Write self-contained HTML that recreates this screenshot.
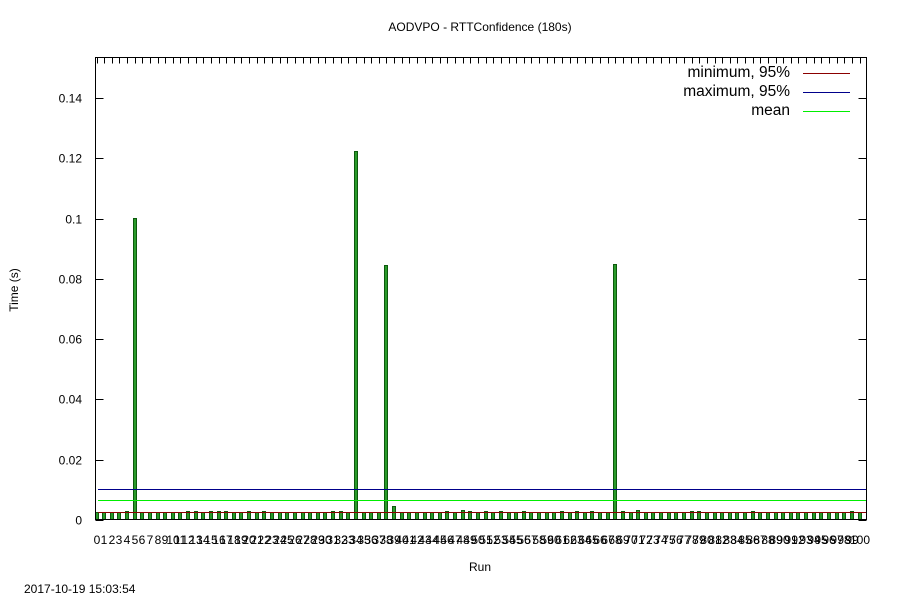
<!DOCTYPE html>
<html><head><meta charset="utf-8"><style>
body{margin:0;background:#fff}
svg text{font-family:"Liberation Sans",sans-serif;font-size:12px;fill:#000}
svg line,svg rect{shape-rendering:crispEdges}
</style></head><body>
<svg id="c" width="900" height="600" xmlns="http://www.w3.org/2000/svg">
<rect width="900" height="600" fill="#fff"/>
<text x="480" y="31" text-anchor="middle">AODVPO - RTTConfidence (180s)</text>
<text x="480" y="571" text-anchor="middle">Run</text>
<text x="18" y="290" text-anchor="middle" transform="rotate(-90 18 290)">Time (s)</text>
<text x="24" y="593">2017-10-19 15:03:54</text>
<g id="g"></g>
<rect x="95.5" y="57.5" width="771" height="462" fill="none" stroke="#000"/>
<g>
<text x="790" y="77" text-anchor="end" style="font-size:15.5px">minimum, 95%</text>
<line x1="803" y1="73.5" x2="850" y2="73.5" stroke="#8b0000"/>
<text x="790" y="96" text-anchor="end" style="font-size:15.5px">maximum, 95%</text>
<line x1="803" y1="92.5" x2="850" y2="92.5" stroke="#00008b"/>
<text x="790" y="115" text-anchor="end" style="font-size:15.5px">mean</text>
<line x1="803" y1="111.5" x2="850" y2="111.5" stroke="#00ee00"/>
</g>
</svg>
<script>
const runs=[];for(let i=0;i<=100;i++)runs.push(i);
const values=new Array(101).fill(0.0027);
const highRuns=[4,12,13,15,16,17,20,22,31,32,46,49,51,53,56,61,63,65,69,78,79,86,99];
const highVals=[0.003,0.003,0.003,0.003,0.003,0.003,0.003,0.003,0.003,0.003,0.003,0.003,0.003,0.003,0.003,0.003,0.003,0.003,0.003,0.003,0.003,0.003,0.003];
const spikeRuns=[5,34,38,39,48,68,71,10,84];
const spikeVals=[0.1003,0.1225,0.0845,0.0045,0.0033,0.085,0.0033,0.0025,0.0025];
highRuns.forEach((r,k)=>values[r]=highVals[k]);
spikeRuns.forEach((r,k)=>values[r]=spikeVals[k]);
const minCI=0.0027, maxCI=0.0103, meanV=0.0066;
const yTicks=[0,0.02,0.04,0.06,0.08,0.1,0.12,0.14];
const yLabels=["0","0.02","0.04","0.06","0.08","0.1","0.12","0.14"];
const L=95.5,R=866.5,T=57.5,B=519.5;
const x=i=>Math.round(96.5+i*7.63);
const y=v=>Math.round(520-v/0.14*422)+0.5;
const g=document.getElementById('g');
const NS='http://www.w3.org/2000/svg';
function mk(t,a){const e=document.createElementNS(NS,t);for(const k in a)e.setAttribute(k,a[k]);g.appendChild(e);return e;}
yTicks.forEach((v,k)=>{
 const t=mk('line',{x1:L,x2:L+8,y1:y(v),y2:y(v),stroke:'#000'});
 
 
 const t2=mk('line',{x1:R-8,x2:R,y1:y(v),y2:y(v),stroke:'#000'});
 
 
 const l=mk('text',{x:82,y:y(v)+4,'text-anchor':'end'});l.textContent=yLabels[k];
 
 
});
runs.forEach((r,i)=>{
 const t=mk('line',{x1:x(r)+0.5,x2:x(r)+0.5,y1:T,y2:T+6,stroke:'#000'});
 
 
 const b=mk('rect',{x:x(r)-1.5,y:y(values[i]),width:3,height:B-y(values[i]),fill:'#2a9a2a',stroke:'#0d5a0d','stroke-width':1});
 
 
 const l=mk('text',{x:x(r),y:544,'text-anchor':'middle'});l.textContent=r;
 
 
});
[[maxCI,'#00008b','max-line'],[meanV,'#00ee00','mean-line'],[minCI,'#8b0000','min-line']].forEach(([v,c,n])=>{
 const ln=mk('line',{x1:98,x2:866,y1:y(v),y2:y(v),stroke:c});
 
 
});
</script>
</body></html>
